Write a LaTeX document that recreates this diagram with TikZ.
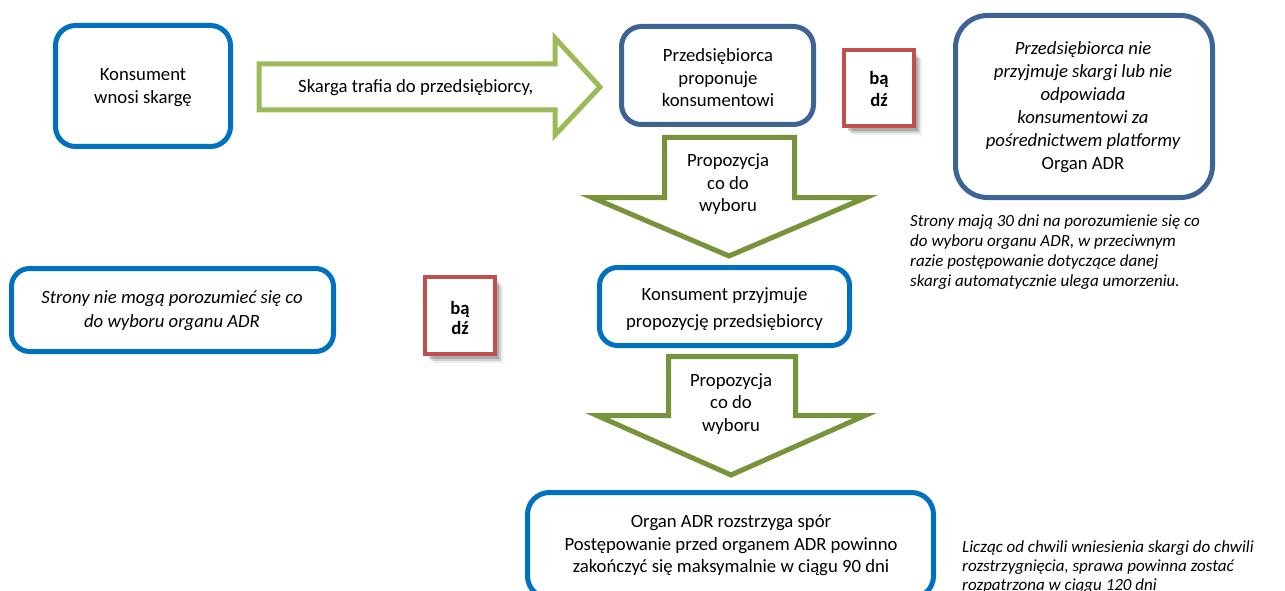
\documentclass[tikz,border=0pt]{standalone}
\usepackage{fontspec}
\setmainfont{Carlito}
\usetikzlibrary{shadows}
\definecolor{cblue}{RGB}{0,112,192}
\definecolor{cdblue}{RGB}{62,100,150}
\definecolor{clgreen}{RGB}{155,187,89}
\definecolor{colive}{RGB}{119,147,60}
\definecolor{cred}{RGB}{192,80,77}
\begin{document}
\begin{tikzpicture}[x=1pt,y=-1pt,
  txt/.style={font=\fontsize{18.7}{22.5}\selectfont,align=center,inner sep=0pt,text=black},
  itxt/.style={font=\fontsize{17}{20}\selectfont\itshape,align=left,inner sep=0pt,text=black},
  bluebox/.style={draw=cblue,line width=5pt,rounded corners=20pt,fill=white,inner sep=0pt,outer sep=0pt},
  dbluebox/.style={draw=cdblue,line width=5pt,rounded corners=20pt,fill=white,inner sep=0pt,outer sep=0pt},
  badge/.style={draw=cred,line width=4pt,fill=white,inner sep=0pt,
    drop shadow={shadow xshift=8pt,shadow yshift=-9pt,fill=black,opacity=0.07},
    drop shadow={shadow xshift=6pt,shadow yshift=-7pt,fill=black,opacity=0.12},
    drop shadow={shadow xshift=4pt,shadow yshift=-5pt,fill=black,opacity=0.18}},
  lgarrow/.style={draw=clgreen,line width=5pt,fill=white,line join=miter},
  olarrow/.style={draw=colive,line width=5pt,fill=white,line join=miter}
]
\useasboundingbox (0,0) rectangle (1285,591);
\clip (0,0) rectangle (1285,591);

% box 1
\node[bluebox,minimum width=175pt,minimum height=121pt] (b1) at (143,86) {};
\node[txt] (b1t) at (143,87.5) {Konsument\\wnosi skargę};

% right block arrow
\draw[lgarrow] (259,64) -- (555,64) -- (555,38) -- (600,87) -- (555,135) -- (555,110) -- (259,110) -- cycle;
\node[txt,anchor=west] (a1t) at (298,88) {Skarga trafia do przedsiębiorcy,};

% Przedsiebiorca box
\node[dbluebox,minimum width=192pt,minimum height=98pt] (b2) at (717.5,75.5) {};
\node[txt] (b2t) at (718,78) {Przedsiębiorca\\proponuje\\konsumentowi};

% badge 1
\node[badge,minimum width=70pt,minimum height=76pt] (bd1) at (879,88) {};
\node[txt,font=\fontsize{18.7}{22}\selectfont\bfseries] (bd1t) at (879,89) {bą\\dź};

% big right box
\node[dbluebox,rounded corners=32pt,minimum width=257pt,minimum height=182pt] (b3) at (1084,106.5) {};
\node[txt,font=\fontsize{18.7}{23}\selectfont] (b3t) at (1083,107.5) {\itshape Przedsiębiorca nie\\\itshape przyjmuje skargi lub nie\\\itshape odpowiada\\\itshape konsumentowi za\\\itshape pośrednictwem platformy\\Organ ADR};

% note 1
\node[itxt,anchor=west] (n1) at (910,252) {Strony mają 30 dni na porozumienie się co\\do wyboru organu ADR, w przeciwnym\\razie postępowanie dotyczące danej\\skargi automatycznie ulega umorzeniu.};

% down arrow 1
\draw[olarrow] (664.5,137.5) -- (794.5,137.5) -- (794.5,197.5) -- (866,197.5) -- (729,256) -- (592,197.5) -- (664.5,197.5) -- cycle;
\node[txt] (a2t) at (728,184.5) {Propozycja\\co do\\wyboru};

% Konsument przyjmuje box
\node[bluebox,rounded corners=18pt,minimum width=250pt,minimum height=78pt] (b4) at (724.5,306.5) {};
\node[txt,font=\fontsize{18.7}{27}\selectfont] (b4t) at (724.5,309) {Konsument przyjmuje\\propozycję przedsiębiorcy};

% Strony nie moga box
\node[bluebox,rounded corners=18pt,minimum width=322pt,minimum height=83pt] (b5) at (172.5,310) {};
\node[txt,font=\fontsize{18.7}{24}\selectfont\itshape] (b5t) at (172,311) {Strony nie mogą porozumieć się co\\do wyboru organu ADR};

% badge 2
\node[badge,minimum width=70pt,minimum height=77pt] (bd2) at (460,315.5) {};
\node[txt,font=\fontsize{18.7}{20}\selectfont\bfseries] (bd2t) at (460,318) {bą\\dź};

% down arrow 2
\draw[olarrow] (668.5,356.5) -- (795.5,356.5) -- (795.5,415.5) -- (865,415.5) -- (731,475) -- (597,415.5) -- (668.5,415.5) -- cycle;
\node[txt] (a3t) at (731,404) {Propozycja\\co do\\wyboru};

% Organ ADR box
\node[bluebox,rounded corners=22pt,minimum width=406pt,minimum height=105.5pt] (b6) at (730.5,545.25) {};
\node[txt] (b6t) at (731,545.5) {Organ ADR rozstrzyga spór\\Postępowanie przed organem ADR powinno\\zakończyć się maksymalnie w ciągu 90 dni};

% note 2
\node[itxt,font=\fontsize{17}{19}\selectfont\itshape,anchor=west] (n2) at (962,567) {Licząc od chwili wniesienia skargi do chwili\\rozstrzygnięcia, sprawa powinna zostać\\rozpatrzona w ciągu 120 dni};
\end{tikzpicture}
\end{document}
